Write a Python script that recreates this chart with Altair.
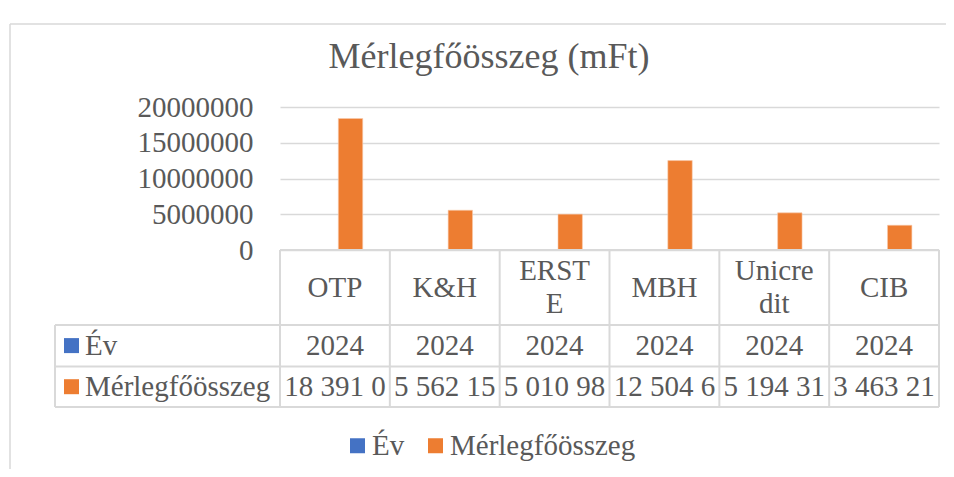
import altair as alt
import pandas as pd

# ---------------- data ----------------
banks = ["OTP", "K&H", "ERSTE", "MBH", "Unicredit", "CIB"]
bank_labels = ["OTP", "K&H", "ERST\nE", "MBH", "Unicre\ndit", "CIB"]
years = [2024, 2024, 2024, 2024, 2024, 2024]
totals = [18391000, 5562150, 5010980, 12504600, 5194310, 3463210]
series = ["Év", "Mérlegfőösszeg"]
colors = ["#4472C4", "#ED7D31"]
y_ticks = [0, 5000000, 10000000, 15000000, 20000000]
title_text = "Mérlegfőösszeg (mFt)"

# ---------------- layout / style ----------------
FONT = "Liberation Serif"
TXT = "#595959"
LINE = "#D9D9D9"
W, H = 659, 143
FS = 29
LH = 33
HEADER_BOTTOM = 218
ROW_BOTTOMS = [259.5, 300]
ROW_CENTERS = [238.6, 279.7]
HEADER_CENTER = 180.5
LEFT_EDGE = -225

bars_df = pd.DataFrame(
    [{"bank": b, "series": series[0], "value": y} for b, y in zip(banks, years)]
    + [{"bank": b, "series": series[1], "value": v} for b, v in zip(banks, totals)]
)

xscale = alt.Scale(domain=banks, paddingInner=0, paddingOuter=0)
xenc = alt.X("bank:N", sort=banks, scale=xscale, axis=None)

bars = alt.Chart(bars_df).mark_bar(stroke="#F8CBAD", strokeWidth=0.6).encode(
    x=xenc,
    xOffset=alt.XOffset("series:N", sort=series,
                        scale=alt.Scale(domain=series, paddingInner=0.1429,
                                        paddingOuter=1, align=0.524)),
    y=alt.Y("value:Q", scale=alt.Scale(domain=[0, 20000000], nice=False),
            axis=alt.Axis(values=y_ticks, format="d", title=None, ticks=False,
                          domain=False, labelFont=FONT, labelFontSize=FS,
                          labelColor=TXT, labelPadding=27, gridColor=LINE,
                          gridWidth=1.5)),
    color=alt.Color("series:N", sort=series,
                    scale=alt.Scale(domain=series, range=colors),
                    legend=alt.Legend(orient="none", legendX=63, legendY=324,
                                      direction="horizontal", title=None,
                                      symbolType="square", symbolSize=225,
                                      symbolStrokeWidth=0,
                                      labelFont=FONT, labelFontSize=FS,
                                      labelColor=TXT, labelOffset=0,
                                      columnPadding=16, labelLimit=400,
                                      padding=0)),
)

one = pd.DataFrame({"k": [0]})
bank_df = pd.DataFrame({
    "bank": banks,
    "label": bank_labels,
    "label_y": [HEADER_CENTER - (lbl.count("\n")) * LH / 2 for lbl in bank_labels],
    "year": [str(y) for y in years],
    "total": [f"{v:,}".replace(",", " ")[:8] for v in totals],
})

layers = [bars]

# vertical table lines at each column's left edge, plus right edge
layers.append(alt.Chart(bank_df).mark_rule(color=LINE, strokeWidth=2).encode(
    x=alt.X("bank:N", sort=banks, scale=xscale, axis=None, bandPosition=0),
    y=alt.value(H), y2=alt.value(ROW_BOTTOMS[-1])))
layers.append(alt.Chart(one).mark_rule(color=LINE, strokeWidth=2).encode(
    x=alt.value(W), y=alt.value(H), y2=alt.value(ROW_BOTTOMS[-1])))
layers.append(alt.Chart(one).mark_rule(color=LINE, strokeWidth=2).encode(
    x=alt.value(LEFT_EDGE), y=alt.value(HEADER_BOTTOM), y2=alt.value(ROW_BOTTOMS[-1])))
# horizontal table lines
layers.append(alt.Chart(one).mark_rule(color=LINE, strokeWidth=2).encode(
    x=alt.value(0), x2=alt.value(W), y=alt.value(H)))
for yy in [HEADER_BOTTOM] + ROW_BOTTOMS:
    layers.append(alt.Chart(one).mark_rule(color=LINE, strokeWidth=2).encode(
        x=alt.value(LEFT_EDGE), x2=alt.value(W), y=alt.value(yy)))

# header labels
layers.append(alt.Chart(bank_df).mark_text(
    font=FONT, fontSize=FS, color=TXT, baseline="middle", lineBreak="\n",
    lineHeight=LH).encode(
    x=alt.X("bank:N", sort=banks, scale=xscale, axis=None),
    y=alt.Y("label_y:Q", scale=None), text="label:N"))
# row values
for field, yc in zip(["year", "total"], ROW_CENTERS):
    layers.append(alt.Chart(bank_df).mark_text(
        font=FONT, fontSize=FS, color=TXT, baseline="middle").encode(
        x=alt.X("bank:N", sort=banks, scale=xscale, axis=None),
        y=alt.value(yc), text=f"{field}:N"))

# row headers
for s, c, yc in zip(series, colors, ROW_CENTERS):
    sdf = pd.DataFrame({"s": [s]})
    layers.append(alt.Chart(sdf).mark_point(
        shape="square", filled=True, size=225, opacity=1, color=c).encode(
        x=alt.value(-208.5), y=alt.value(yc)))
    layers.append(alt.Chart(sdf).mark_text(
        font=FONT, fontSize=FS, color=TXT, baseline="middle", align="left").encode(
        x=alt.value(-195), y=alt.value(yc), text="s:N"))

# title
layers.append(alt.Chart(pd.DataFrame({"t": [title_text]})).mark_text(
    font=FONT, fontSize=36, color=TXT, baseline="middle").encode(
    x=alt.value(209), y=alt.value(-50), text="t:N"))

# outer chart border (top and left parts visible)
layers.append(alt.Chart(one).mark_rule(color=LINE, strokeWidth=1.5).encode(
    x=alt.value(-270), x2=alt.value(680), y=alt.value(-83)))
layers.append(alt.Chart(one).mark_rule(color=LINE, strokeWidth=1.5).encode(
    x=alt.value(-270), y=alt.value(-83), y2=alt.value(380)))

chart = alt.layer(*layers).properties(
    width=W, height=H,
    autosize=alt.AutoSizeParams(type="none"),
    padding={"left": 272, "top": 99, "right": 7, "bottom": 219},
    background="white",
).configure_view(stroke=None)

chart.save("out.html", embed_options={"renderer": "svg", "actions": False})
